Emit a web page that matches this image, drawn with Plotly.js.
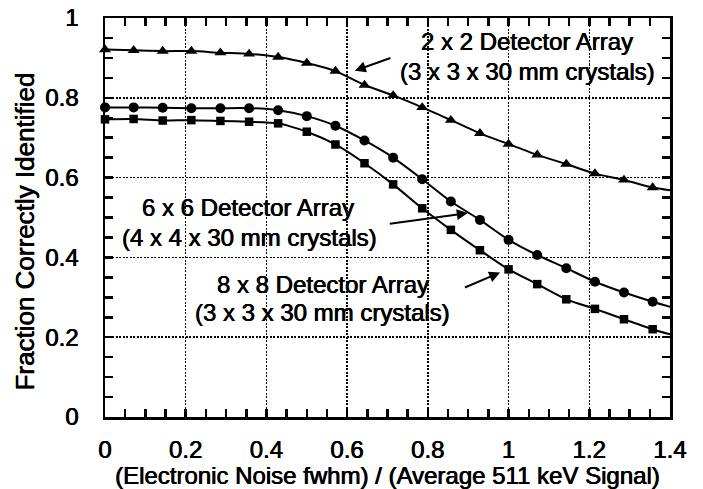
<!DOCTYPE html>
<html>
<head>
<meta charset="utf-8">
<script src="https://cdn.plot.ly/plotly-3.0.1.min.js"></script>
<style>
  html, body { margin: 0; padding: 0; background: #fff; }
  #chart { width: 703px; height: 489px; }
</style>
</head>
<body>
<div id="chart"></div>
<script>
// Noise ratio: (Electronic Noise fwhm) / (Average 511 keV Signal)
var noiseRatio = [0, 0.071, 0.143, 0.214, 0.286, 0.357, 0.429, 0.5, 0.571, 0.643,
                  0.714, 0.786, 0.857, 0.929, 1.0, 1.071, 1.143, 1.214, 1.286, 1.357];

// Fraction correctly identified
var array2x2 = [0.921, 0.919, 0.917, 0.917, 0.913, 0.910, 0.902, 0.887, 0.867, 0.832,
                0.806, 0.776, 0.744, 0.711, 0.684, 0.657, 0.634, 0.610, 0.594, 0.575];
var array6x6 = [0.776, 0.776, 0.775, 0.774, 0.774, 0.774, 0.769, 0.754, 0.730, 0.693,
                0.650, 0.596, 0.540, 0.494, 0.444, 0.406, 0.373, 0.339, 0.312, 0.289];
var array8x8 = [0.746, 0.747, 0.743, 0.744, 0.742, 0.740, 0.736, 0.715, 0.683, 0.636,
                0.583, 0.523, 0.469, 0.418, 0.370, 0.333, 0.295, 0.271, 0.245, 0.220];

// Curves continue to the right edge of the axis
var curveEndX = 1.4;
var curveEnd2x2 = 0.568;
var curveEnd6x6 = 0.276;
var curveEnd8x8 = 0.207;

// Axis ticks
var xRange = [0, 1.4];
var yRange = [0, 1];
var majorStep = 0.2;
var minorStep = 0.05;

var FONT = 'Liberation Sans, Arial, Helvetica, sans-serif';
var SHADOW = '0.35px 0 0 #000, -0.35px 0 0 #000';

function lineTrace(ys, endY) {
  return {
    x: noiseRatio.concat([curveEndX]),
    y: ys.concat([endY]),
    mode: 'lines',
    line: {color: '#000', width: 2, shape: 'spline', smoothing: 0.6},
    hoverinfo: 'skip',
    showlegend: false
  };
}
function markerTrace(ys, symbol, size, name) {
  return {
    x: noiseRatio,
    y: ys,
    name: name,
    mode: 'markers',
    marker: {symbol: symbol, size: size, color: '#000', line: {width: 0}},
    showlegend: false,
    cliponaxis: false
  };
}

var data = [
  lineTrace(array2x2, curveEnd2x2),
  lineTrace(array6x6, curveEnd6x6),
  lineTrace(array8x8, curveEnd8x8),
  markerTrace(array2x2, 'triangle-up', 10.5, '2 x 2 Detector Array'),
  markerTrace(array6x6, 'circle', 10, '6 x 6 Detector Array'),
  markerTrace(array8x8, 'square', 8.5, '8 x 8 Detector Array')
];

function textAnn(x, y, text) {
  return {x: x, y: y, xref: 'x', yref: 'y', text: text, showarrow: false,
          xanchor: 'center', yanchor: 'middle',
          font: {family: FONT, size: 24, color: '#000', shadow: SHADOW}};
}
function arrowAnn(xHead, yHead, xTail, yTail) {
  return {x: xHead, y: yHead, ax: xTail, ay: yTail, xref: 'x', yref: 'y',
          axref: 'x', ayref: 'y', text: '', showarrow: true,
          arrowhead: 2, arrowsize: 1.1, arrowwidth: 2, arrowcolor: '#000', standoff: 0};
}

function axisBase(range) {
  return {
    range: range,
    tickmode: 'linear',
    tick0: 0,
    dtick: majorStep,
    ticks: 'inside',
    ticklen: 8,
    tickwidth: 2.5,
    tickcolor: '#000',
    minor: {tick0: 0, dtick: minorStep, ticks: 'inside', ticklen: 8,
            tickwidth: 2.5, tickcolor: '#000', showgrid: false},
    showline: true,
    linewidth: 2.5,
    linecolor: '#000',
    mirror: 'ticks',
    showgrid: true,
    gridcolor: '#000',
    gridwidth: 1.5,
    griddash: '2px,1.5px',
    zeroline: false,
    tickfont: {family: FONT, size: 24, color: '#000', shadow: SHADOW}
  };
}

var xaxis = axisBase(xRange);
xaxis.ticklabelstandoff = 10;
xaxis.title = {text: '(Electronic Noise fwhm) / (Average 511 keV Signal)',
               font: {family: FONT, size: 24, color: '#000', shadow: SHADOW}, standoff: 13};

var yaxis = axisBase(yRange);
yaxis.ticklabelstandoff = 19;

var layout = {
  width: 703,
  height: 489,
  margin: {l: 105, r: 33, t: 18, b: 72},
  paper_bgcolor: '#fff',
  plot_bgcolor: '#fff',
  font: {family: FONT, size: 24, color: '#000'},
  xaxis: xaxis,
  yaxis: yaxis,
  annotations: [
    {text: 'Fraction Correctly Identified', xref: 'paper', yref: 'paper',
     x: -0.1416, y: 0.465, xanchor: 'center', yanchor: 'middle', textangle: -90,
     showarrow: false, font: {family: FONT, size: 26, color: '#000', shadow: SHADOW}},
    textAnn(1.046, 0.940, '2 x 2 Detector Array'),
    textAnn(1.048, 0.867, '(3 x 3 x 30 mm crystals)'),
    textAnn(0.354, 0.524, '6 x 6 Detector Array'),
    textAnn(0.359, 0.449, '(4 x 4 x 30 mm crystals)'),
    textAnn(0.540, 0.331, '8 x 8 Detector Array'),
    textAnn(0.540, 0.263, '(3 x 3 x 30 mm crystals)'),
    arrowAnn(0.619, 0.868, 0.711, 0.901),
    arrowAnn(0.899, 0.511, 0.702, 0.484),
    arrowAnn(0.979, 0.362, 0.888, 0.323)
  ],
  showlegend: false
};

Plotly.newPlot('chart', data, layout, {displayModeBar: false, staticPlot: true});
</script>
</body>
</html>
